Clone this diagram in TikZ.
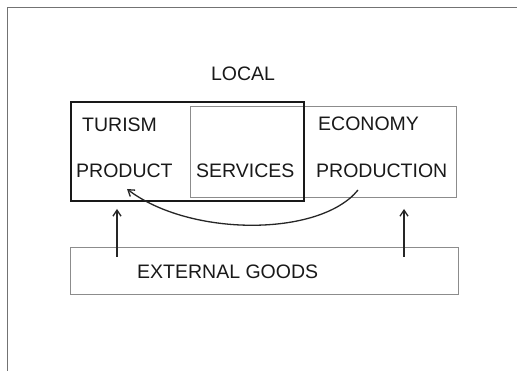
\documentclass[tikz,border=0pt]{standalone}
\usepackage{fontspec}
\setmainfont{Liberation Sans}
\usetikzlibrary{arrows.meta}
\begin{document}
\begin{tikzpicture}[x=1pt,y=-1pt,
  lbl/.style={inner sep=0pt, font=\fontsize{19.5}{19.5}\selectfont, text=black!90},
  greybox/.style={draw=black!45, line width=1.2pt, inner sep=0pt},
  blackbox/.style={draw=black!90, line width=1.6pt, inner sep=0pt},
  conn/.style={draw=black!85, line width=1.3pt, -{Straight Barb[length=6pt,width=8pt]}}]
\useasboundingbox (0,0) rectangle (517,371);
\fill[white] (0,0) rectangle (517,371);
\draw[black!55, line width=1pt] (517,8) -- (7,8) -- (7,371);
% boxes
\node[greybox, minimum width=266pt, minimum height=91pt, anchor=north west] (ebox) at (190,106) {};
\node[blackbox, minimum width=233pt, minimum height=99pt, anchor=north west] (tbox) at (70,101) {};
\node[greybox, minimum width=388pt, minimum height=47pt, anchor=north west] (gbox) at (70,247) {};
% texts
\node[lbl] (local) at (243,74) {LOCAL};
\node[lbl, anchor=west] (turism) at (82,125) {TURISM};
\node[lbl, anchor=west] (product) at (76,171) {PRODUCT};
\node[lbl, anchor=west] (services) at (196,171) {SERVICES};
\node[lbl, anchor=west] (economy) at (318,124) {ECONOMY};
\node[lbl, anchor=west] (production) at (316,171) {PRODUCTION};
\node[lbl, anchor=west] (external) at (137,272) {EXTERNAL GOODS};
% connectors
\coordinate (pstart) at (358,190);
\coordinate (pend) at (127,189);
\draw[conn] (pstart) .. controls (320,237) and (190,237) .. (pend);
\coordinate (la) at (117,257);
\coordinate (lb) at (117,209);
\coordinate (ra) at (404,257);
\coordinate (rb) at (404,209);
\draw[conn] (la) -- (lb);
\draw[conn] (ra) -- (rb);
\end{tikzpicture}
\end{document}
